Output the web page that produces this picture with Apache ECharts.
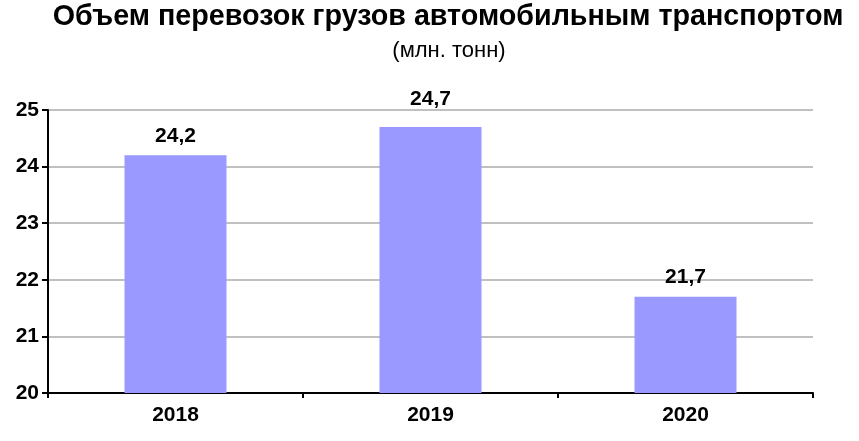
<!DOCTYPE html>
<html><head><meta charset="utf-8">
<script src="https://cdn.jsdelivr.net/npm/echarts@6/dist/echarts.min.js"></script>
<style>html,body{margin:0;padding:0;background:#fff}#c{width:859px;height:441px}</style>
</head><body><div id="c"></div>
<script>
const categories = ['2018', '2019', '2020'];
const values = [24.2, 24.7, 21.7];
const yTicks = [20, 21, 22, 23, 24, 25];
const titleText = 'Объем перевозок грузов автомобильным транспортом';
const subtitleText = '(млн. тонн)';
// label offsets (style only)
const labelDistance = [9, 17, 9];

const chart = echarts.init(document.getElementById('c'));
const FONT = '"Liberation Sans", Arial, sans-serif';
chart.setOption({
  animation: false,
  textStyle: {fontFamily: FONT},
  title: [{
    text: titleText, left: 448, top: 3, textAlign: 'center', padding: 0,
    textStyle: {fontFamily: FONT, fontSize: 28.7, fontWeight: 'bold', color: '#000'}
  }, {
    text: subtitleText, left: 449, top: 40, textAlign: 'center', padding: 0,
    textStyle: {fontFamily: FONT, fontSize: 22, fontWeight: 'normal', color: '#000'}
  }],
  grid: {left: 48, right: 46, top: 110, bottom: 48},
  xAxis: {
    type: 'category', data: categories,
    axisLine: {lineStyle: {color: '#000', width: 2}},
    axisTick: {show: true, inside: false, length: 5, lineStyle: {color: '#000', width: 2}},
    axisLabel: {fontFamily: FONT, fontSize: 21, fontWeight: 'bold', color: '#000', margin: 12}
  },
  yAxis: {
    type: 'value', min: yTicks[0], max: yTicks[yTicks.length - 1], interval: 1,
    axisLine: {show: true, lineStyle: {color: '#000', width: 2}},
    axisTick: {show: true, length: 6, lineStyle: {color: '#000', width: 2}},
    axisLabel: {fontFamily: FONT, fontSize: 21, fontWeight: 'bold', color: '#000', margin: 9},
    splitLine: {lineStyle: {color: '#c0c0c0', width: 2}}
  },
  series: [{
    type: 'bar',
    data: values.map((v, i) => ({value: v, label: {distance: labelDistance[i]}})),
    barWidth: '40%',
    itemStyle: {color: '#9999ff'},
    label: {
      show: true, position: 'top', distance: 9,
      fontFamily: FONT, fontSize: 21, fontWeight: 'bold', color: '#000',
      formatter: p => String(p.value).replace('.', ',')
    }
  }]
});
</script></body></html>
